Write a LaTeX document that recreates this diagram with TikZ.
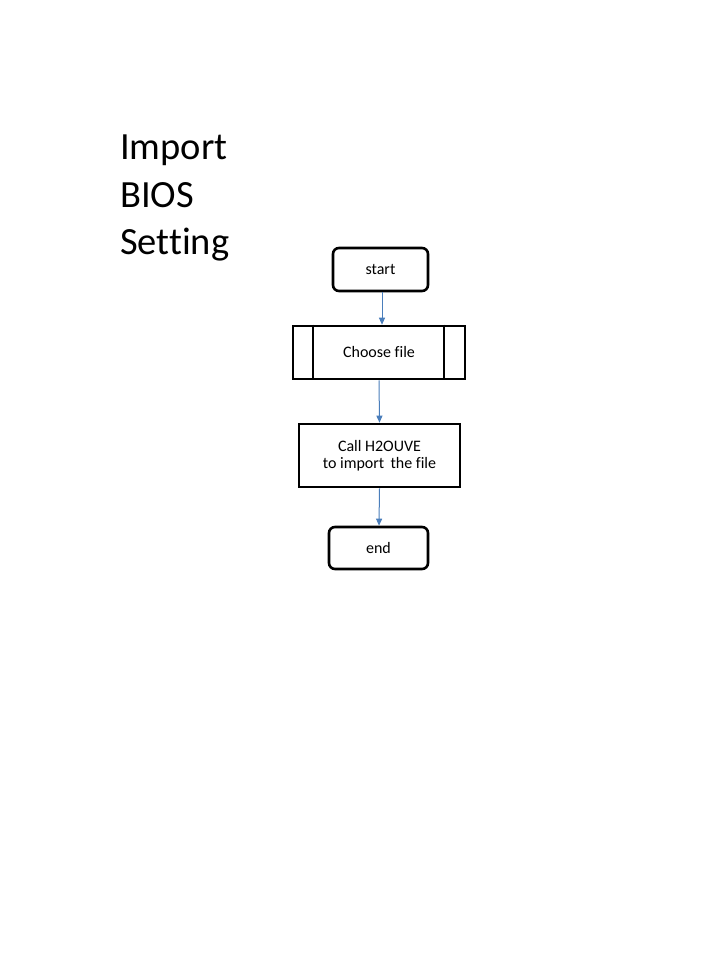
\documentclass[tikz,border=0pt]{standalone}
\usepackage{fontspec}
\setmainfont[Ligatures=NoCommon]{Carlito}
\usetikzlibrary{arrows.meta}
\definecolor{arrowblue}{RGB}{74,126,187}
\begin{document}
\begin{tikzpicture}[x=1pt,y=-1pt,
  boxline/.style={draw=black,line width=2.6pt},
  titletext/.style={anchor=base west,inner sep=0pt,font=\fontsize{38.5}{47}\selectfont},
  term/.style={boxline,rounded corners=6pt,font=\fontsize{16}{17.5}\selectfont},
  proc/.style={boxline,font=\fontsize{16}{17.5}\selectfont,align=center},
  flow/.style={draw=arrowblue,line width=1pt,-{Triangle[length=7pt,width=6pt]}}]
\useasboundingbox[fill=white] (0,0) rectangle (720,960);
\node[titletext] (title1) at (120,160) {Import};
\node[titletext] (title2) at (120,207) {BIOS};
\node[titletext] (title3) at (120,254) {Setting};
\node[term,minimum width=95pt,minimum height=43pt] (start) at (380.5,269.5) {start};
\node[proc,minimum width=172pt,minimum height=53pt] (choose) at (379,352.5) {Choose file};
\draw[line width=2pt] ([xshift=21pt]choose.north west) -- ([xshift=21pt]choose.south west);
\draw[line width=2pt] ([xshift=-22pt]choose.north east) -- ([xshift=-22pt]choose.south east);
\node[proc,minimum width=161pt,minimum height=63pt] (call) at (379.5,455.5) {Call H2OUVE\\to import\, the file};
\node[term,minimum width=99pt,minimum height=42pt] (end) at (378.5,548) {end};
\draw[flow] ([xshift=1.5pt]start.south) -- ([xshift=3pt]choose.north);
\draw[flow] (choose.south) -- (call.north);
\draw[flow] (call.south) -- ([xshift=0.5pt]end.north);
\end{tikzpicture}
\end{document}
